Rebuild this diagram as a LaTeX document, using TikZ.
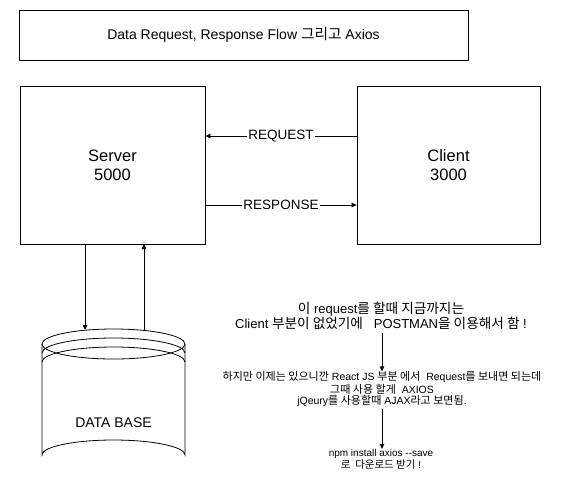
\documentclass[tikz,border=0pt]{standalone}
\usepackage{fontspec}
\setmainfont{Liberation Sans}
\newfontfamily\kr{Noto Sans CJK KR}[Scale=1.05]
\usetikzlibrary{arrows.meta}
\begin{document}
\begin{tikzpicture}[x=1pt,y=-1pt,
  box/.style={draw, line width=0.8pt, inner sep=0pt},
  conn/.style={line width=0.8pt, -{Triangle[length=5pt,width=4.5pt]}},
  lbl/.style={fill=white, inner sep=1pt, font=\fontsize{13.5}{15}\selectfont},
  note/.style={align=center, inner sep=0pt}]
\useasboundingbox (0,0) rectangle (567,491);
% title
\node[box, minimum width=449pt, minimum height=50pt, font=\fontsize{14}{16}\selectfont] (title) at (243.5,35) {Data Request, Response Flow {\kr 그리고} Axios};
% server & client
\node[box, minimum width=185pt, minimum height=158pt, align=center, font=\fontsize{16.5}{19}\selectfont] (server) at (112.5,165) {Server\\5000};
\node[box, minimum width=183pt, minimum height=158pt, align=center, font=\fontsize{16.5}{19}\selectfont] (client) at (448.5,165) {Client\\3000};
\coordinate (sreq) at (server.east |- 0,136);
\coordinate (creq) at (client.west |- 0,136);
\coordinate (sres) at (server.east |- 0,205);
\coordinate (cres) at (client.west |- 0,205);
\draw[conn] (creq) -- node[lbl] {REQUEST} (sreq);
\draw[conn] (sres) -- node[lbl] {RESPONSE} (cres);
% database
\draw[line width=0.8pt] (113.5,344) ellipse[x radius=71.5, y radius=15];
\draw[line width=0.8pt] (42,353) arc[start angle=180, end angle=360, x radius=71.5, y radius=15];
\draw[line width=0.8pt] (42,362) arc[start angle=180, end angle=360, x radius=71.5, y radius=15];
\draw[line width=0.8pt] (42,344) -- (42,455) arc[start angle=180, end angle=360, x radius=71.5, y radius=15] -- (185,344);
\node[font=\fontsize{14}{16}\selectfont] (db) at (113.5,423) {DATA BASE};
\coordinate (dbin) at (85,330);
\coordinate (dbout) at (144,329.5);
\coordinate (sdown) at (85,244);
\coordinate (sup2) at (144,244);
\draw[conn] (sdown) -- (dbin);
\draw[conn] (dbout) -- (sup2);
% notes
\node[note, font=\fontsize{13}{15.5}\selectfont] (n1) at (381,316) {{\kr 이} request{\kr 를 할때 지금까지는}\\Client {\kr 부분이 없었기에}\ \ \ POSTMAN{\kr 을 이용해서 함} !};
\node[note, font=\fontsize{10.5}{9.3}\selectfont] (n2) at (382,389) {{\kr 하지만 이제는 있으니깐} React JS {\kr 부분 에서}\ \ Request{\kr 를 보내면 되는데}\\{\kr 그때 사용 할게}\ \ AXIOS\\jQeury{\kr 를 사용할때} AJAX{\kr 라고 보면됨}.};
\node[note, font=\fontsize{10}{9}\selectfont] (n3) at (381,459) {npm install axios -{}-save\\{\kr 로 \ 다운로드 받기} !};
\draw[conn] (382,333) -- (n2.north -| 382,0);
\draw[conn] (382,409) -- (n3.north -| 382,0);
\end{tikzpicture}
\end{document}
